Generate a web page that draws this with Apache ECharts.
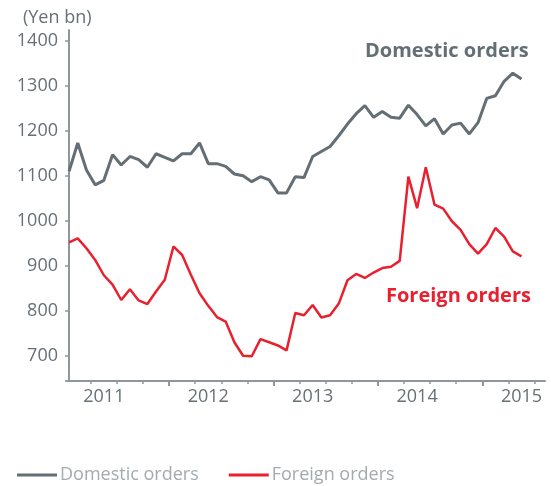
<!DOCTYPE html>
<html>
<head>
<meta charset="utf-8">
<script src="https://cdn.jsdelivr.net/npm/echarts@6/dist/echarts.min.js"></script>
<style>
  html, body { margin: 0; padding: 0; background: #fff; }
  #main { width: 551px; height: 486px; }
</style>
</head>
<body>
<div id="main"></div>
<script>
// months from Sep 2010 to Jan 2015, index 0 = Sep 2010
const months = [];
for (let i = 0; i < 53; i++) {
  const m = 8 + i;
  months.push((2010 + Math.floor(m / 12)) + '-' + String(m % 12 + 1).padStart(2, '0'));
}

const domestic = [
  1110, 1173, 1113, 1080, 1090, 1147, 1124, 1143, 1136, 1119,
  1149, 1141, 1133, 1149, 1149, 1173, 1127, 1127, 1121, 1104,
  1100, 1087, 1098, 1091, 1062, 1062, 1098, 1096, 1143, 1154,
  1165, 1189, 1215, 1238, 1256, 1230, 1243, 1230, 1228, 1257,
  1236, 1211, 1227, 1193, 1213, 1217, 1193, 1218, 1272, 1278,
  1310, 1328, 1315
];

const foreign = [
  952, 961, 939, 913, 879, 858, 824, 848, 823, 815,
  843, 869, 943, 924, 880, 839, 811, 786, 776, 730,
  700, 699, 737, 730, 723, 712, 795, 790, 813, 785,
  790, 816, 868, 882, 873, 885, 895, 898, 911, 1098,
  1028, 1119, 1036, 1027, 999, 980, 948, 927, 948, 984,
  965, 932, 921
];

const yTicks = [700, 800, 900, 1000, 1100, 1200, 1300, 1400];
const yearLabels = ['2011', '2012', '2013', '2014', '2015'];
const yearIdx = [4, 16, 28, 40, 52];        // January positions
const minorTicks = [];
for (let t = 2.5; t < 54; t += 3) minorTicks.push(t);
const majorTicks = [11.5, 23.5, 35.5, 47.5];

const axisGray = '#8e979d';
const labelGray = '#667076';
const font = "'Open Sans', 'Noto Sans', sans-serif";

const chart = echarts.init(document.getElementById('main'));
const option = {
  animation: false,
  textStyle: { fontFamily: font },
  grid: { left: 66, right: 6, top: 30, bottom: 105 },
  xAxis: [
    {
      type: 'value',
      min: -0.35,
      max: 54.7,
      splitLine: { show: false },
      axisLine: { lineStyle: { color: axisGray, width: 2 } },
      axisTick: { show: true, customValues: minorTicks, length: 3, lineStyle: { color: axisGray, width: 1.5 } },
      axisLabel: {
        customValues: yearIdx,
        formatter: v => yearLabels[yearIdx.indexOf(Math.round(v))] || '',
        color: labelGray, fontSize: 18, margin: 7, fontFamily: font
      }
    },
    {
      type: 'value',
      min: -0.35,
      max: 54.7,
      position: 'bottom',
      splitLine: { show: false },
      axisLine: { show: false },
      axisTick: { show: true, customValues: majorTicks, length: 5, lineStyle: { color: axisGray, width: 2 } },
      axisLabel: { show: false }
    }
  ],
  yAxis: {
    type: 'value',
    min: 644,
    max: 1424,
    splitLine: { show: false },
    axisLine: { show: true, lineStyle: { color: axisGray, width: 2 } },
    axisTick: { show: true, customValues: yTicks, length: 4, lineStyle: { color: axisGray, width: 1.5 } },
    axisLabel: {
      customValues: yTicks,
      formatter: v => String(v),
      color: labelGray, fontSize: 18, margin: 8, fontFamily: font
    }
  },
  legend: {
    left: 12,
    top: 461,
    itemGap: 30,
    itemWidth: 40,
    itemHeight: 3,
    icon: 'rect',
    textStyle: { color: '#a3aab0', fontSize: 18, fontFamily: font, padding: [0, 0, 0, -2] },
    data: ['Domestic orders', 'Foreign orders']
  },
  graphic: [
    { type: 'text', left: 23, top: 9, style: { text: '(Yen bn)', fill: labelGray, font: "18px " + font } },
    { type: 'text', left: 365, top: 41, style: { text: 'Domestic orders', fill: '#646e75', font: "bold 20px " + font } },
    { type: 'text', left: 386, top: 286, style: { text: 'Foreign orders', fill: '#e8202f', font: "bold 20px " + font } }
  ],
  series: [
    {
      name: 'Domestic orders',
      type: 'line',
      showSymbol: false,
      data: domestic.map((v, i) => [i, v]),
      itemStyle: { color: '#646e75' },
      lineStyle: { color: '#646e75', width: 3 }
    },
    {
      name: 'Foreign orders',
      type: 'line',
      showSymbol: false,
      data: foreign.map((v, i) => [i, v]),
      itemStyle: { color: '#e8202f' },
      lineStyle: { color: '#e8202f', width: 2.5 }
    }
  ]
};
chart.setOption(option);
</script>
</body>
</html>
